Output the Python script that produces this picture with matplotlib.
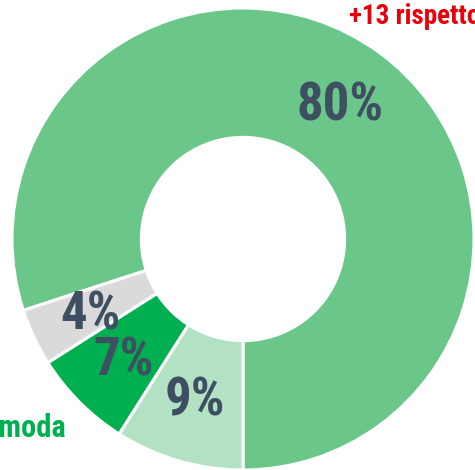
import matplotlib
matplotlib.use("Agg")
import matplotlib.pyplot as plt

labels = ["80%", "4%", "7%", "9%"]
values = [80, 4, 7, 9]
colors = ["#6BC68A", "#DADADA", "#00B050", "#B3E1C4"]
label_pos = [(340, 106), (90, 315), (124, 361), (195, 401)]  # pixel centres

W, H = 475, 470
cx, cy, R = 243, 239, 231

fig = plt.figure(figsize=(W / 100, H / 100), dpi=100)
ax = fig.add_axes([0, 0, 1, 1])
ax.axis("off")

ax.pie(values, colors=colors, startangle=-90, counterclock=True, radius=1,
       wedgeprops=dict(width=0.56, edgecolor="white", linewidth=2.2))
ax.set_xlim(-cx / R, (W - cx) / R)
ax.set_ylim(-(H - cy) / R, cy / R)
ax.set_aspect("auto")

fam = ["Roboto Condensed", "DejaVu Sans"]


def px(x, y):
    return ((x - cx) / R, (cy - y) / R)


for lab, (x, y) in zip(labels, label_pos):
    ax.text(*px(x, y), lab, ha="center", va="center", fontsize=38,
            fontweight="bold", color="#3D4F61", family=fam)

ax.text(*px(349, 24), "+13 rispetto", ha="left", va="baseline", fontsize=19.5,
        fontweight="bold", color="#E8000B", family=fam, clip_on=False)
ax.text(*px(66, 437), "Prima moda", ha="right", va="baseline", fontsize=22,
        fontweight="bold", color="#00B050", family=fam, clip_on=False)

fig.savefig("out.png", dpi=100)
